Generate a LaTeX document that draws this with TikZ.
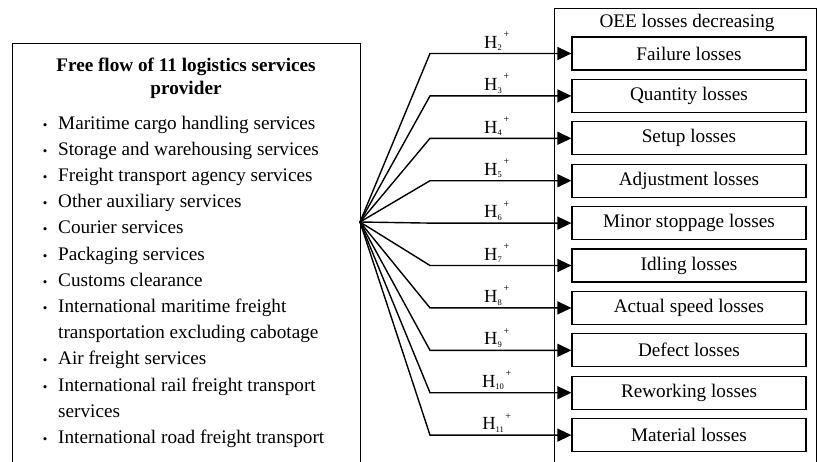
\documentclass[tikz,border=0pt]{standalone}
\usepackage{fontspec}
\setmainfont{Liberation Serif}
\usetikzlibrary{arrows.meta,positioning}

\tikzset{
 frame/.style={draw,line width=1.2pt,inner sep=0pt,anchor=north west},
 lossbox/.style={draw,line width=1.2pt,minimum width=234pt,minimum height=33pt,inner sep=0pt,font=\fontsize{19.2}{23}\selectfont},
 hyparrow/.style={line width=1.4pt,-{Triangle[length=14pt,width=13pt]}},
 hlab/.style={above,xshift=-4pt,inner sep=2pt,font=\fontsize{18.5}{18.5}\selectfont},
}
\newcommand\bul{\makebox[8pt][c]{\fontsize{13}{13}\selectfont\textbullet}\hspace{9pt}}
\newcommand\nobul{\hspace{17pt}}
\newcommand\hyp[1]{H\raisebox{-0.3ex}{\fontsize{8.5}{8.5}\selectfont#1}\raisebox{1.25ex}{\fontsize{10}{10}\selectfont\,+}}

\begin{document}
\begin{tikzpicture}[x=1pt,y=-1pt]
 \path[use as bounding box,clip] (0,0) rectangle (817,461);

 % left box
 \node[frame,minimum width=348pt,minimum height=440pt] (prov) at (12,43) {};
 \node[align=center,font=\fontsize{19.2}{22.6}\selectfont\bfseries] (provtitle) at (186,78)
  {Free flow of 11 logistics services\\provider};
 \node[anchor=north west,inner sep=0pt,align=left,font=\fontsize{19.2}{26.2}\selectfont] (provlist) at (41,115.5)
  {\bul Maritime cargo handling services\\
   \bul Storage and warehousing services\\
   \bul Freight transport agency services\\
   \bul Other auxiliary services\\
   \bul Courier services\\
   \bul Packaging services\\
   \bul Customs clearance\\
   \bul International maritime freight\\
   \nobul transportation excluding cabotage\\
   \bul Air freight services\\
   \bul International rail freight transport\\
   \nobul services\\
   \bul International road freight transport};
 \coordinate (hub) at (360,222);
 \coordinate (kx) at (430,0);

 % right box
 \node[frame,minimum width=262pt,minimum height=470pt] (oee) at (554,8) {};
 \node[font=\fontsize{19.2}{23}\selectfont] (oeetitle) at (687,22.5) {OEE losses decreasing};

 \node[lossbox] (b2) at (689,53.5) {Failure losses};
 \node[lossbox,below=8.2pt of b2] (b3) {Quantity losses};
 \node[lossbox,below=8.2pt of b3] (b4) {Setup losses};
 \node[lossbox,below=8.2pt of b4] (b5) {Adjustment losses};
 \node[lossbox,below=8.2pt of b5] (b6) {Minor stoppage losses};
 \node[lossbox,below=8.2pt of b6] (b7) {Idling losses};
 \node[lossbox,below=8.2pt of b7] (b8) {Actual speed losses};
 \node[lossbox,below=8.2pt of b8] (b9) {Defect losses};
 \node[lossbox,below=8.2pt of b9] (b10) {Reworking losses};
 \node[lossbox,below=8.2pt of b10] (b11) {Material losses};

 % hypotheses
 \draw[hyparrow] (hub) -- (kx |- b2.west) -- node[hlab]{\hyp{2}} (b2.west);
 \draw[hyparrow] (hub) -- (kx |- b3.west) -- node[hlab]{\hyp{3}} (b3.west);
 \draw[hyparrow] (hub) -- (kx |- b4.west) -- node[hlab]{\hyp{4}} (b4.west);
 \draw[hyparrow] (hub) -- (kx |- b5.west) -- node[hlab]{\hyp{5}} (b5.west);
 \draw[hyparrow] (hub) -- (kx |- b6.west) -- node[hlab]{\hyp{6}} (b6.west);
 \draw[hyparrow] (hub) -- (kx |- b7.west) -- node[hlab]{\hyp{7}} (b7.west);
 \draw[hyparrow] (hub) -- (kx |- b8.west) -- node[hlab]{\hyp{8}} (b8.west);
 \draw[hyparrow] (hub) -- (kx |- b9.west) -- node[hlab]{\hyp{9}} (b9.west);
 \draw[hyparrow] (hub) -- (kx |- b10.west) -- node[hlab]{\hyp{10}} (b10.west);
 \draw[hyparrow] (hub) -- (kx |- b11.west) -- node[hlab]{\hyp{11}} (b11.west);
\end{tikzpicture}
\end{document}
